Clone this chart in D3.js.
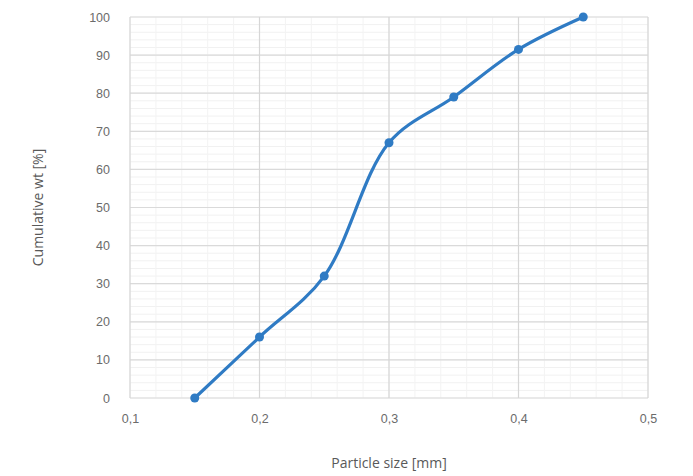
<!DOCTYPE html>
<html>
<head>
<meta charset="utf-8">
<script src="https://d3js.org/d3.v7.min.js"></script>
<style>
  body { margin: 0; background: #fff; font-family: "Open Sans", Arial, sans-serif; }
  .tick text { fill: #6b6b6b; font-size: 12.5px; }
</style>
</head>
<body>
<div id="chart"></div>
<script>
  // data
  const sizes = [0.15, 0.2, 0.25, 0.3, 0.35, 0.4, 0.45];
  const cumulative = [0, 16, 32, 67, 79, 91.5, 100];
  const xTicks = [0.1, 0.2, 0.3, 0.4, 0.5];
  const yTicks = [0, 10, 20, 30, 40, 50, 60, 70, 80, 90, 100];

  const width = 693, height = 476;
  const margin = {top: 17, right: 45, bottom: 78, left: 130};

  const svg = d3.select("#chart").append("svg")
    .attr("width", width)
    .attr("height", height);

  const x = d3.scaleLinear().domain([0.1, 0.5]).range([margin.left, width - margin.right]);
  const y = d3.scaleLinear().domain([0, 100]).range([height - margin.bottom, margin.top]);

  const grid = svg.append("g");
  // minor grid
  grid.selectAll(".minor-y").data(d3.range(0, 101, 2))
    .enter().append("line")
    .attr("x1", x(0.1)).attr("x2", x(0.5))
    .attr("y1", d => y(d)).attr("y2", d => y(d))
    .attr("stroke", "#f1f1f1").attr("stroke-width", 1);
  grid.selectAll(".minor-x").data(d3.range(0.1, 0.5001, 0.02))
    .enter().append("line")
    .attr("y1", y(0)).attr("y2", y(100))
    .attr("x1", d => x(d)).attr("x2", d => x(d))
    .attr("stroke", "#f3f3f3").attr("stroke-width", 1);
  // major grid
  grid.selectAll(".major-y").data(yTicks)
    .enter().append("line")
    .attr("x1", x(0.1)).attr("x2", x(0.5))
    .attr("y1", d => y(d)).attr("y2", d => y(d))
    .attr("stroke", "#dadada").attr("stroke-width", 1.2);
  grid.selectAll(".major-x").data(xTicks)
    .enter().append("line")
    .attr("y1", y(0)).attr("y2", y(100))
    .attr("x1", d => x(d)).attr("x2", d => x(d))
    .attr("stroke", "#d6d6d6").attr("stroke-width", 1.2);

  // axes
  const xAxis = svg.append("g")
    .attr("transform", `translate(0,${y(0)})`)
    .call(d3.axisBottom(x).tickValues(xTicks).tickSize(0).tickPadding(16)
      .tickFormat(d => d3.format(".1f")(d).replace(".", ",")));
  xAxis.select(".domain").remove();

  const yAxis = svg.append("g")
    .attr("transform", `translate(${x(0.1)},0)`)
    .call(d3.axisLeft(y).tickValues(yTicks).tickSize(0).tickPadding(20));
  yAxis.select(".domain").remove();

  // series
  const line = d3.line()
    .x((d, i) => x(sizes[i]))
    .y(d => y(d))
    .curve(d3.curveCatmullRom.alpha(0.5));

  svg.append("path")
    .datum(cumulative)
    .attr("fill", "none")
    .attr("stroke", "#2f7bc4")
    .attr("stroke-width", 3.2)
    .attr("stroke-linejoin", "round")
    .attr("d", line);

  svg.selectAll(".pt").data(cumulative)
    .enter().append("circle")
    .attr("cx", (d, i) => x(sizes[i]))
    .attr("cy", d => y(d))
    .attr("r", 4.5)
    .attr("fill", "#2f7bc4");

  // axis titles
  svg.append("text")
    .attr("x", (x(0.1) + x(0.5)) / 2)
    .attr("y", 468)
    .attr("text-anchor", "middle")
    .attr("fill", "#595959")
    .attr("font-size", 14)
    .text("Particle size [mm]");

  svg.append("text")
    .attr("transform", `translate(43,${(y(0) + y(100)) / 2}) rotate(-90)`)
    .attr("text-anchor", "middle")
    .attr("fill", "#595959")
    .attr("font-size", 14)
    .text("Cumulative wt [%]");
</script>
</body>
</html>
